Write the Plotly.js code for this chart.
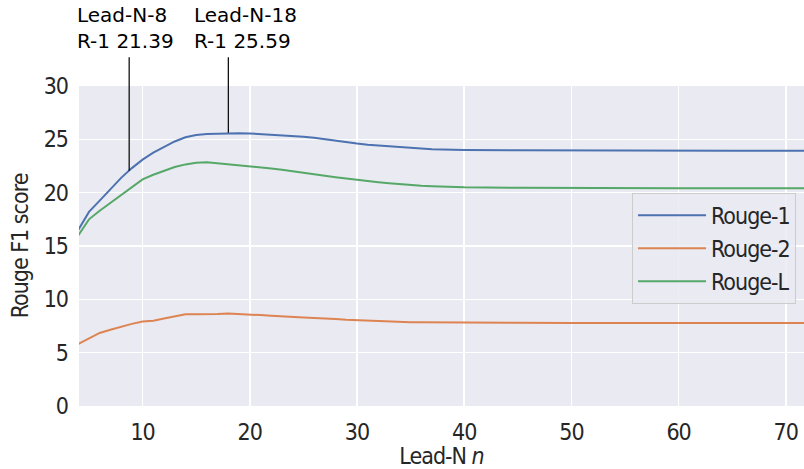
<!DOCTYPE html>
<html>
<head>
<meta charset="utf-8">
<script src="https://cdn.plot.ly/plotly-3.0.1.min.js"></script>
<style>
html,body{margin:0;padding:0;background:#fff;}
#chart{width:804px;height:469px;}
.xtick text,.ytick text,.legendtext,.g-xtitle text,.g-ytitle text{letter-spacing:-1px;}
</style>
</head>
<body>
<div id="chart"></div>
<script>
const leadN = [4,5,6,7,8,9,10,11,12,13,14,15,16,17,18,19,20,21,22,23,24,25,26,27,28,29,30,31,32,33,34,35,36,37,38,39,40,45,50,55,60,65,70,72];
const rouge1 = [16.5,18.2,19.25,20.3,21.39,22.3,23.1,23.75,24.3,24.8,25.2,25.4,25.5,25.55,25.59,25.58,25.55,25.5,25.45,25.4,25.35,25.25,25.15,25.0,24.85,24.72,24.6,24.5,24.42,24.35,24.25,24.18,24.12,24.08,24.05,24.03,24.0,23.98,23.95,23.95,23.93,23.93,23.92,23.92];
const rouge2 = [5.8,6.35,6.85,7.15,7.45,7.7,7.92,8.0,8.2,8.4,8.6,8.6,8.6,8.62,8.68,8.65,8.6,8.52,8.45,8.38,8.33,8.3,8.25,8.22,8.15,8.08,8.04,7.98,7.93,7.9,7.87,7.85,7.84,7.83,7.82,7.81,7.8,7.8,7.78,7.78,7.78,7.78,7.78,7.78];
const rougeL = [16.0,17.5,18.3,19.05,19.75,20.55,21.25,21.68,22.06,22.4,22.65,22.8,22.85,22.75,22.72,22.6,22.5,22.38,22.27,22.15,22.0,21.9,21.75,21.6,21.45,21.33,21.2,21.08,20.98,20.88,20.78,20.7,20.64,20.6,20.56,20.52,20.5,20.45,20.42,20.42,20.42,20.42,20.42,20.42];
const seriesNames = ['Rouge-1','Rouge-2','Rouge-L'];
const colors = ['#4C72B0','#DD8452','#55A868'];
const annoLabels = ['Lead-N-8<br>R-1 21.39','Lead-N-18<br>R-1 25.59'];

const tickFont = {family:'"DejaVu Sans Condensed", "DejaVu Sans", sans-serif', size:23, color:'#262626'};
const traces = [rouge1, rouge2, rougeL].map((ys,i)=>({
  x: leadN, y: ys, type:'scatter', mode:'lines', name: seriesNames[i],
  line:{color:colors[i], width:2}
}));

const annotations = [
  {xref:'x', yref:'y', x:8.75, y:22.06, text:'', showarrow:true, arrowhead:0, arrowwidth:1.2, arrowcolor:'#000', ax:0, ay:-115, standoff:0, startstandoff:0},
  {xref:'x', yref:'y', x:18, y:25.62, text:'', showarrow:true, arrowhead:0, arrowwidth:1.2, arrowcolor:'#000', ax:0, ay:-77, standoff:0, startstandoff:0},
  {xref:'x', yref:'paper', x:8.75, y:1.097, xanchor:'left', yanchor:'bottom', xshift:-54, text:annoLabels[0], showarrow:false, align:'left', font:{family:'"DejaVu Sans", sans-serif', size:20, color:'#000'}},
  {xref:'x', yref:'paper', x:18, y:1.097, xanchor:'left', yanchor:'bottom', xshift:-36, text:annoLabels[1], showarrow:false, align:'left', font:{family:'"DejaVu Sans", sans-serif', size:20, color:'#000'}}
];

const layout = {
  width:804, height:469,
  margin:{l:79, r:0, t:86, b:63, pad:0},
  paper_bgcolor:'#ffffff', plot_bgcolor:'#EAEAF2',
  showlegend:true,
  legend:{x:0.989, y:0.666, xanchor:'right', yanchor:'top', bgcolor:'rgba(234,234,242,0.8)', bordercolor:'#cccccc', borderwidth:1, font:tickFont, tracegroupgap:0, itemwidth:68},
  xaxis:{range:[4.07,71.7], tickvals:[10,20,30,40,50,60,70], showgrid:true, gridcolor:'#ffffff', gridwidth:1.5, zeroline:false, showline:false, ticks:'', tickfont:tickFont, ticklabelstandoff:10,
    title:{text:'Lead-N <i>n</i>', font:tickFont, standoff:8}},
  yaxis:{range:[0,30], tickvals:[0,5,10,15,20,25,30], showgrid:true, gridcolor:'#ffffff', gridwidth:1.5, zeroline:false, showline:false, ticks:'', tickfont:tickFont, ticklabelstandoff:10,
    title:{text:'Rouge F1 score', font:tickFont, standoff:8}},
  annotations: annotations
};
Plotly.newPlot('chart', traces, layout, {staticPlot:true, displayModeBar:false});
</script>
</body>
</html>
